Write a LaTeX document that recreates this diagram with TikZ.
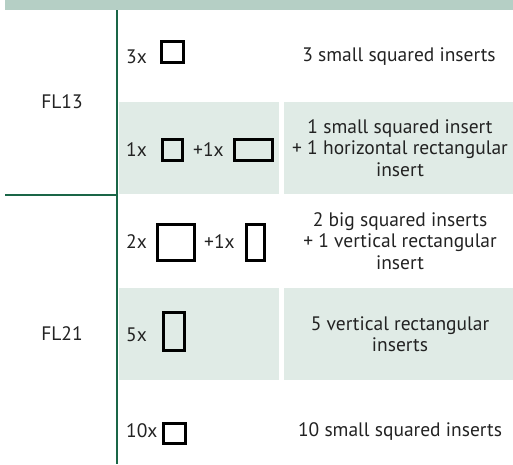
\documentclass[tikz,border=0pt]{standalone}
\usepackage{fontspec}
\setmainfont{PT Sans}
\definecolor{headc}{HTML}{B5CFC5}
\definecolor{shadec}{HTML}{E0EBE6}
\definecolor{linec}{HTML}{1A6647}
\definecolor{textc}{HTML}{222222}
\begin{document}
\begin{tikzpicture}[x=1pt,y=-1pt,
  txt/.style={font=\fontsize{19.5}{21.5}\selectfont, text=textc, inner sep=0pt, align=center},
  cnt/.style={txt, anchor=west},
  ins/.style={draw=black, line width=2.6pt, inner sep=0pt, fill=none}]
\useasboundingbox (0,0) rectangle (513,464);
% header band
\fill[headc] (5,0) rectangle (513,10);
% shaded rows
\fill[shadec] (119,102) rectangle (279,194);
\fill[shadec] (284,102) rectangle (513,194);
\fill[shadec] (119,288) rectangle (279,380);
\fill[shadec] (284,288) rectangle (513,380);
% group lines
\draw[linec, line width=1.6pt] (117,10) -- (117,464);
\draw[linec, line width=1.6pt] (5,195) -- (117,195);
% group labels
\node[txt] (fl13) at (62,102) {FL13};
\node[txt] (fl21) at (62,334) {FL21};
% row 1
\node[cnt] (r1a) at (126,57) {3x};
\node[ins, minimum width=21.5pt, minimum height=21.5pt] (r1s) at (172.5,52) {};
\node[txt] (r1t) at (399,57) {3 small squared inserts};
% row 2
\node[cnt] (r2a) at (126,150) {1x};
\node[ins, minimum width=20.5pt, minimum height=21.5pt] (r2s) at (172.5,150) {};
\node[cnt] (r2b) at (193,150) {+1x};
\node[ins, minimum width=38.5pt, minimum height=21.5pt] (r2r) at (253.5,150) {};
\node[txt] (r2t) at (400,148) {1 small squared insert\\+ 1 horizontal rectangular\\insert};
% row 3
\node[cnt] (r3a) at (126,242) {2x};
\node[ins, minimum width=37.5pt, minimum height=36.5pt] (r3s) at (176,242.5) {};
\node[cnt] (r3b) at (204,242) {+1x};
\node[ins, minimum width=18.5pt, minimum height=36.5pt] (r3r) at (255.5,242.5) {};
\node[txt] (r3t) at (400,241) {2 big squared inserts\\+ 1 vertical rectangular\\insert};
% row 4
\node[cnt] (r4a) at (126,335) {5x};
\node[ins, minimum width=21.5pt, minimum height=38.5pt] (r4r) at (174,331.5) {};
\node[txt] (r4t) at (400,334) {5 vertical rectangular\\inserts};
% row 5
\node[cnt] (r5a) at (126,431) {10x};
\node[ins, minimum width=22.5pt, minimum height=20.5pt] (r5s) at (174.5,433.5) {};
\node[txt] (r5t) at (400,431) {10 small squared inserts};
\end{tikzpicture}
\end{document}
